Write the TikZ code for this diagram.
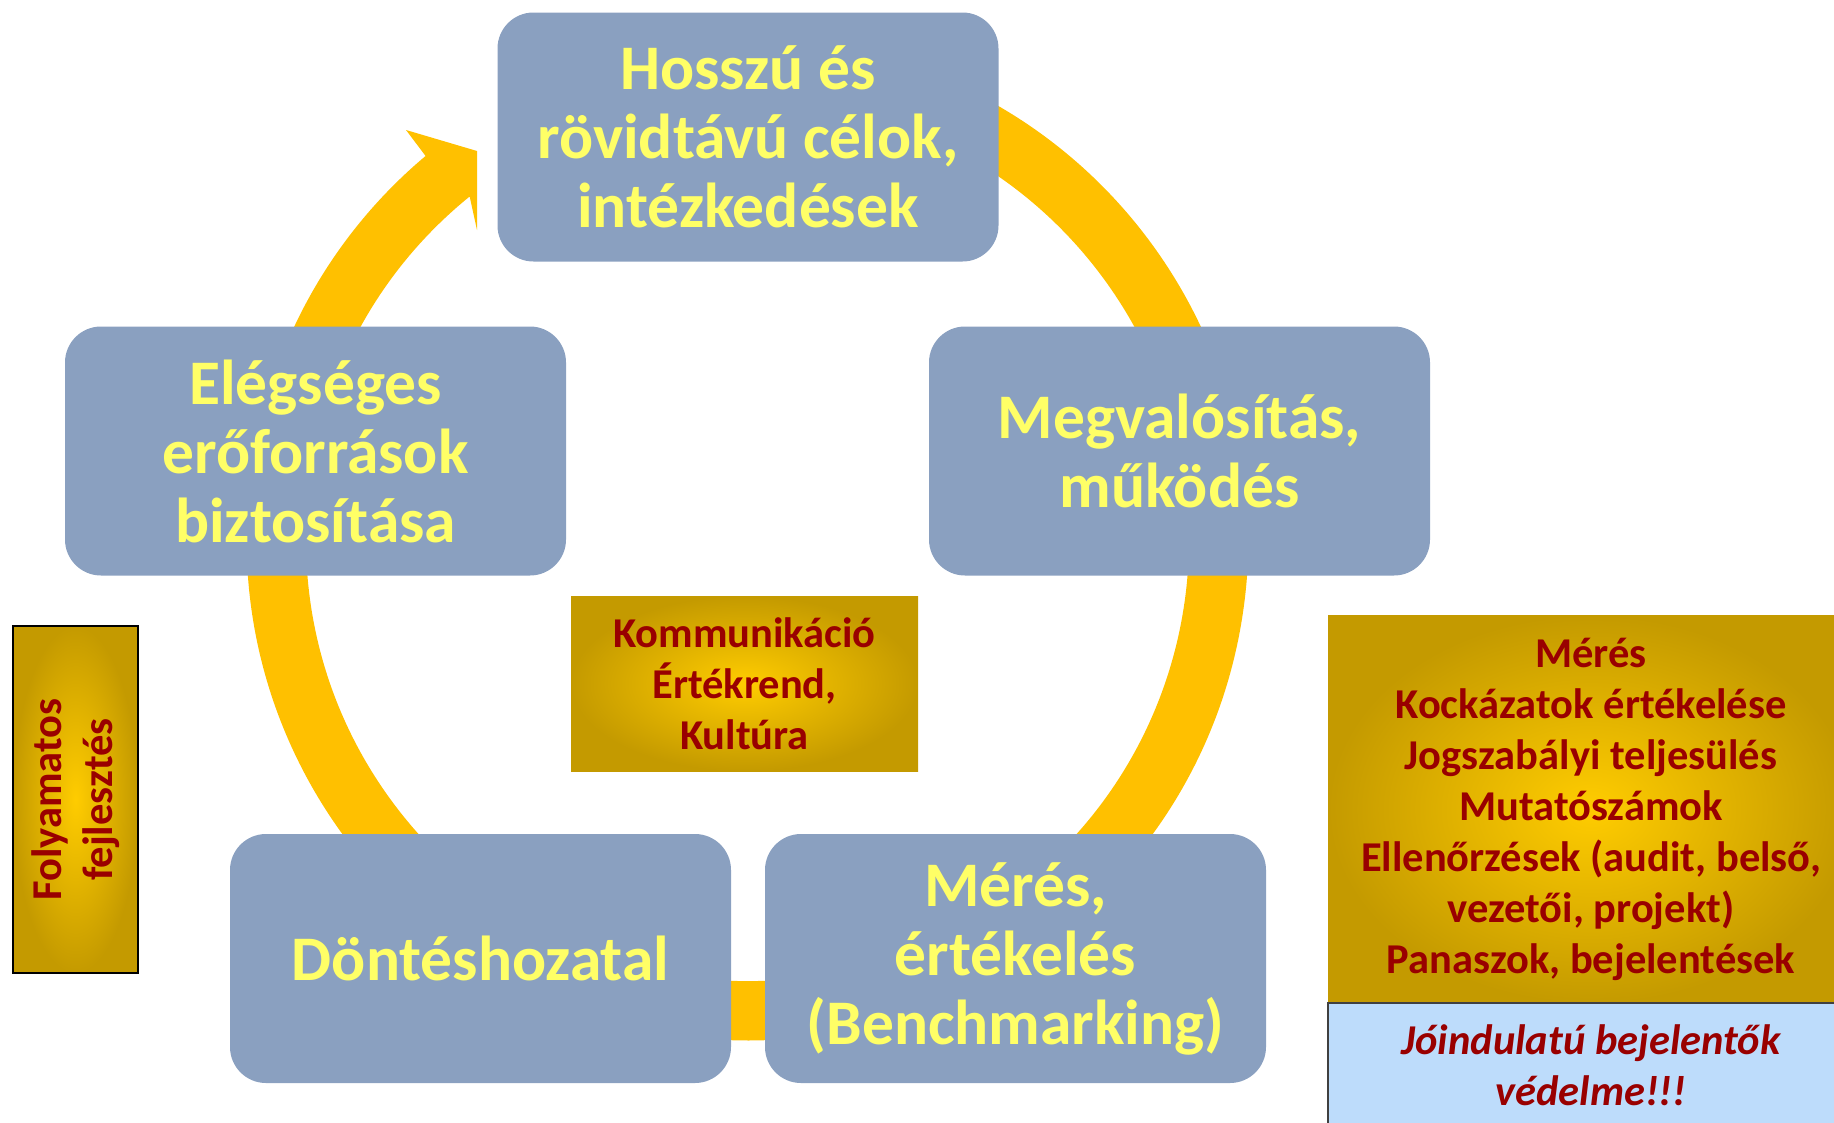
\documentclass[tikz,border=0pt]{standalone}
\usepackage{fontspec}
\setmainfont{Carlito}
\usepackage{tikz}
\usetikzlibrary{calc}
\usetikzlibrary{shapes}
\definecolor{stageblue}{HTML}{8AA0C0}
\definecolor{stageyellow}{HTML}{FFFF66}
\definecolor{ringgold}{HTML}{FFC000}
\definecolor{goldlight}{HTML}{FFCC00}
\definecolor{golddark}{HTML}{C49A00}
\definecolor{notered}{HTML}{990000}
\definecolor{noteblue}{HTML}{BDDCFB}
\newcommand{\stagefont}{\fontsize{63.5}{69}\selectfont\bfseries}
\newcommand{\notefont}{\fontsize{42.5}{51}\selectfont\bfseries}
\newcommand{\stage}[4]{ \node[shape=rectangle,rounded corners=36pt,fill=stageblue,text=stageyellow,align=center,inner sep=0pt,minimum width=501pt,minimum height=249pt,font=\stagefont] (#1) at ( #2 , #3 ) {#4};}
\newcommand{\goldnote}[5]{ \node[shape=rectangle,inner color=goldlight,outer color=golddark,text=notered,align=center,inner sep=0pt,font=\notefont,#4] (#1) at ( #2 , #3 ) {#5};}

\begin{document}
\begin{tikzpicture}[x=1pt,y=-1pt]
\useasboundingbox (0,0) rectangle (1834,1122);
% the ring with its arrow head
\coordinate (ctr) at (747.5,539.6);
\coordinate (barbout) at (406,130);
\coordinate (tip) at (477,151);
\coordinate (barbin) at (477,230);
\coordinate (notchin) at ($(ctr)+(231:441.5)$);
\fill[ringgold] ($(ctr)+(-80:500.8)$) arc[start angle=-80,end angle=230,radius=500.8]
  -- (barbout) -- (tip) -- (barbin) -- (notchin)
  arc[start angle=231,end angle=-80,radius=441.5] -- cycle;
% stages of the cycle
\stage{goals}{748}{137}{Hosszú és\\rövidtávú célok,\\intézkedések}
\stage{doing}{1179.5}{451}{Megvalósítás,\\működés}
\stage{measure}{1015.5}{958.5}{Mérés,\\értékelés\\(Benchmarking)}
\stage{decide}{480.5}{958.5}{Döntéshozatal}
\stage{means}{315.5}{451}{Elégséges\\erőforrások\\biztosítása}
% gold notes
\goldnote{culture}{744.5}{683.5}{minimum width=347pt,minimum height=175pt}{Kommunikáció\\Értékrend,\\Kultúra}
\goldnote{improve}{75.5}{799.5}{rotate=90,draw=black,line width=1.5pt,minimum width=347pt,minimum height=125pt}{Folyamatos\\fejlesztés}
\goldnote{checks}{1591}{809}{minimum width=526pt,minimum height=388pt}{Mérés\\Kockázatok értékelése\\Jogszabályi teljesülés\\Mutatószámok\\Ellenőrzések (audit, belső,\\vezetői, projekt)\\Panaszok, bejelentések}
% protection note
\node[shape=rectangle,fill=noteblue,draw=black!75,line width=1.5pt,text=notered,align=center,inner sep=0pt,minimum width=526pt,minimum height=124pt,font=\notefont\itshape] (protect) at (1591,1065) {Jóindulatú bejelentők\\védelme!!!};
\end{tikzpicture}
\end{document}
